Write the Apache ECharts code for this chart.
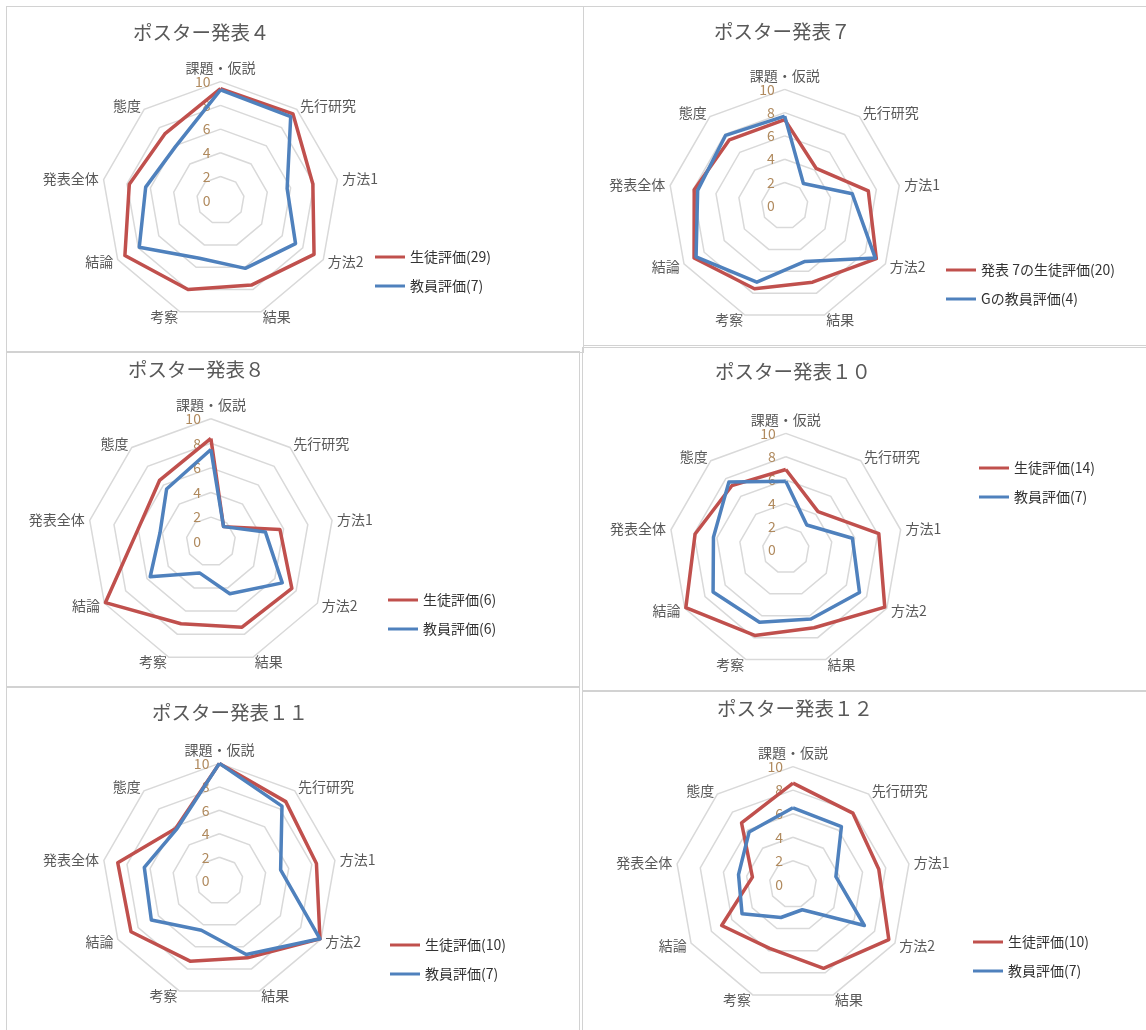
<!DOCTYPE html>
<html>
<head>
<meta charset="utf-8">
<script src="https://cdn.jsdelivr.net/npm/echarts@6/dist/echarts.min.js"></script>
<style>
html,body{margin:0;padding:0;background:#fff;width:1146px;height:1030px;overflow:hidden;}
.panel{position:absolute;border:1.5px solid #d2d2d2;box-sizing:border-box;}
#chart{position:absolute;left:0;top:0;width:1146px;height:1030px;}
</style>
</head>
<body>
<div class="panel" style="left:6px;top:6px;width:578px;height:347px"></div>
<div class="panel" style="left:583px;top:6px;width:580px;height:340px"></div>
<div class="panel" style="left:6px;top:351px;width:574px;height:337px"></div>
<div class="panel" style="left:582px;top:347px;width:580px;height:345px"></div>
<div class="panel" style="left:6px;top:686px;width:574px;height:360px"></div>
<div class="panel" style="left:582px;top:690px;width:580px;height:360px"></div>
<div id="chart"></div>
<script>
// ---- data ----
const axisNames = ['課題・仮説', '先行研究', '方法1', '方法2', '結果', '考察', '結論', '発表全体', '態度'];
const scaleMin = 0;
const scaleMax = 10;
const scaleStep = 2;

const chartTitles = ['ポスター発表４', 'ポスター発表７', 'ポスター発表８', 'ポスター発表１０', 'ポスター発表１１', 'ポスター発表１２'];
const studentNames = ['生徒評価(29)', '発表 7の生徒評価(20)', '生徒評価(6)', '生徒評価(14)', '生徒評価(10)', '生徒評価(10)'];
const teacherNames = ['教員評価(7)', 'Gの教員評価(4)', '教員評価(6)', '教員評価(7)', '教員評価(7)', '教員評価(7)'];

const student4  = [9.4, 9.5, 7.9, 9.1, 7.6, 8.0, 9.3, 7.8, 7.3];
const teacher4  = [9.3, 9.2, 5.7, 7.3, 6.1, 5.2, 7.9, 6.4, 5.9];
const student7  = [7.4, 4.2, 7.3, 9.1, 7.0, 7.6, 9.0, 7.9, 7.4];
const teacher7  = [7.7, 2.5, 5.9, 9.0, 5.1, 7.0, 8.8, 7.6, 7.9];
const student8  = [8.4, 1.6, 5.7, 7.6, 7.4, 7.1, 9.9, 6.0, 6.5];
const teacher8  = [7.5, 1.6, 4.5, 6.7, 4.5, 2.7, 5.7, 4.2, 5.6];
const student10 = [6.9, 4.3, 8.1, 9.8, 7.1, 7.8, 9.9, 7.9, 7.2];
const teacher10 = [5.9, 2.8, 5.8, 7.3, 6.3, 6.6, 7.2, 6.3, 7.6];
const student11 = [10, 8.8, 8.4, 9.9, 7.0, 7.3, 8.7, 8.8, 5.8];
const teacher11 = [10, 8.3, 5.3, 9.9, 6.7, 4.5, 6.7, 6.5, 5.7];
const student12 = [8.6, 7.9, 7.4, 9.4, 7.6, 5.8, 7.0, 3.5, 6.8];
const teacher12 = [6.5, 6.4, 3.7, 7.0, 2.3, 3.0, 5.0, 4.7, 5.8];

const studentSets = [student4, student7, student8, student10, student11, student12];
const teacherSets = [teacher4, teacher7, teacher8, teacher10, teacher11, teacher12];

// ---- layout (positions / sizes) ----
const radarLayout = [
  {cx: 220.5, cy: 200.3, r: 118.7},
  {cx: 784.7, cy: 205.7, r: 116.3},
  {cx: 210.9, cy: 541.7, r: 123},
  {cx: 785.8, cy: 550.0, r: 116.6},
  {cx: 219.4, cy: 880.7, r: 117.3},
  {cx: 793.0, cy: 884.3, r: 117.7}
];
const titleLayout = [
  {left: 133, top: 23}, {left: 714, top: 22}, {left: 128, top: 360},
  {left: 715, top: 362}, {left: 152, top: 703}, {left: 717, top: 699}
];
const legendLayout = [
  {left: 375, top: 250}, {left: 946, top: 263}, {left: 388, top: 593},
  {left: 979, top: 461}, {left: 390, top: 938}, {left: 973, top: 935}
];

// ---- styles ----
const FONT = '"Noto Sans CJK JP", "Noto Sans", sans-serif';
const RED = '#c0504d';
const BLUE = '#4f81bd';

// ECharts lays indicators out counter-clockwise; reference is clockwise from top.
const order = [0];
for (let i = axisNames.length - 1; i >= 1; i--) order.push(i);
const reorder = arr => order.map(i => arr[i]);

const radars = [], series = [], titles = [], legends = [];
for (let k = 0; k < 6; k++) {
  const L = radarLayout[k];
  radars.push({
    center: [L.cx, L.cy],
    radius: L.r,
    startAngle: 90,
    shape: 'polygon',
    splitNumber: (scaleMax - scaleMin) / scaleStep,
    nameGap: 5,
    axisName: {color: '#595959', fontSize: 14, fontFamily: FONT},
    splitLine: {lineStyle: {color: '#d9d9d9', width: 1.5}},
    splitArea: {show: false},
    axisLine: {show: false},
    axisTick: {show: false},
    axisLabel: {show: false},
    indicator: order.map((i, j) => {
      const ind = {name: axisNames[i], min: scaleMin, max: scaleMax};
      if (j === 0) {
        ind.axisLabel = {show: true, color: '#b08a5e', fontSize: 14, fontFamily: FONT, margin: 10};
      }
      return ind;
    })
  });
  series.push({
    type: 'radar',
    radarIndex: k,
    symbol: 'none',
    data: [
      {name: studentNames[k], value: reorder(studentSets[k]),
       lineStyle: {color: RED, width: 3.5, join: 'round'}, itemStyle: {color: RED}},
      {name: teacherNames[k], value: reorder(teacherSets[k]),
       lineStyle: {color: BLUE, width: 3.5, join: 'round'}, itemStyle: {color: BLUE}}
    ]
  });
  titles.push({
    text: chartTitles[k],
    left: titleLayout[k].left,
    top: titleLayout[k].top,
    padding: 0,
    textStyle: {color: '#595959', fontSize: 19.5, fontWeight: 'normal', fontFamily: FONT}
  });
  legends.push({
    orient: 'vertical',
    left: legendLayout[k].left,
    top: legendLayout[k].top,
    padding: 0,
    itemWidth: 30,
    itemHeight: 3,
    itemGap: 15,
    icon: 'rect',
    selectedMode: false,
    textStyle: {color: '#333333', fontSize: 14, fontFamily: FONT},
    data: [studentNames[k], teacherNames[k]]
  });
}

const chart = echarts.init(document.getElementById('chart'), null, {renderer: 'canvas'});
chart.setOption({
  animation: false,
  backgroundColor: 'transparent',
  title: titles,
  legend: legends,
  radar: radars,
  series: series
});
</script>
</body>
</html>
